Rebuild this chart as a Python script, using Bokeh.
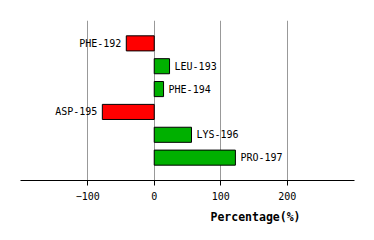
from bokeh.plotting import figure
from bokeh.models import Range1d, Title, FixedTicker, ColumnDataSource
from bokeh.core.properties import value
from bokeh.embed import file_html
from bokeh.resources import INLINE

residues = ["PHE-192", "LEU-193", "PHE-194", "ASP-195", "LYS-196", "PRO-197"]
percentages = [-42, 23, 14, -78, 56, 122]
x_ticks = [-100, 0, 100, 200]

pos = list(range(len(residues)))
colors = ["#ff0000" if v < 0 else "#00b000" for v in percentages]

p = figure(width=374, height=240, output_backend="svg", toolbar_location=None,
           x_range=Range1d(-201, 301), y_range=Range1d(6, -1),
           y_axis_location=None, min_border_left=20, min_border_right=20,
           min_border_top=20, min_border_bottom=60)
p.outline_line_color = None
p.ygrid.visible = False
p.xgrid.ticker = FixedTicker(ticks=x_ticks)
p.xgrid.grid_line_color = "#999999"
p.xgrid.grid_line_width = 1
p.xaxis.ticker = FixedTicker(ticks=x_ticks)
p.xaxis.axis_line_color = "black"
p.xaxis.major_tick_line_color = "black"
p.xaxis.major_tick_in = 0
p.xaxis.major_tick_out = 5
p.xaxis.minor_tick_line_color = None
p.xaxis.major_label_text_font = "DejaVu Sans Mono"
p.xaxis.major_label_text_font_size = "10px"
p.xaxis.major_label_text_color = "black"
p.xaxis.major_label_standoff = 6

src = ColumnDataSource(dict(y=pos, right=percentages, color=colors, name=residues))
p.hbar(y="y", left=0, right="right", height=0.66, fill_color="color",
       line_color="black", line_width=1, source=src)

neg = ColumnDataSource(dict(x=[v for v in percentages if v < 0],
                            y=[i for i, v in zip(pos, percentages) if v < 0],
                            t=[r for r, v in zip(residues, percentages) if v < 0]))
posd = ColumnDataSource(dict(x=[v for v in percentages if v >= 0],
                             y=[i for i, v in zip(pos, percentages) if v >= 0],
                             t=[r for r, v in zip(residues, percentages) if v >= 0]))
p.text(x="x", y="y", text="t", source=neg, text_align="right", text_baseline="middle",
       x_offset=-5, text_font=value("DejaVu Sans Mono"), text_font_size="10px", text_color="black")
p.text(x="x", y="y", text="t", source=posd, text_align="left", text_baseline="middle",
       x_offset=5, text_font=value("DejaVu Sans Mono"), text_font_size="10px", text_color="black")

t = Title(text="Percentage(%)", align="left", offset=190, text_font="DejaVu Sans Mono",
          text_font_size="11.5px", text_font_style="bold", text_color="black")
p.add_layout(t, "below")

open("out.html", "w").write(file_html(p, INLINE))
